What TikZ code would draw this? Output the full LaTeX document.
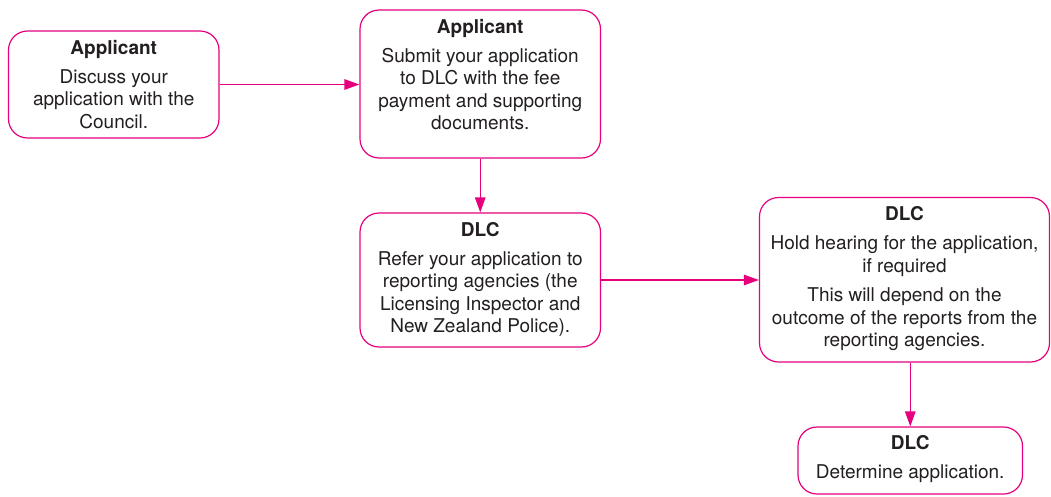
\documentclass[tikz,border=0pt]{standalone}
\usepackage{fontspec}
\setmainfont{TeX Gyre Heros}
\usetikzlibrary{arrows.meta}
\definecolor{mag}{HTML}{E6007E}
\definecolor{ink}{HTML}{231F20}
\tikzset{
  box/.style={draw=mag, line width=1.2pt, rounded corners=19pt, inner sep=0pt, fill=white},
  txt/.style={anchor=north, inner sep=0pt, align=center, text=ink,
    font=\fontsize{19}{22.5}\selectfont},
  conn/.style={draw=mag, line width=1.3pt, -{Triangle[length=15pt,width=10.5pt]}}
}
\begin{document}
\begin{tikzpicture}[x=1pt,y=1pt]
\useasboundingbox (0,0) rectangle (1051,-496);
\node[box, minimum width=210.5pt, minimum height=107pt] (b1) at (113.75,-84.5) {};
\node[box, minimum width=240.5pt, minimum height=148pt] (b2) at (480.25,-84) {};
\node[box, minimum width=240.5pt, minimum height=134pt] (b3) at (480.25,-280) {};
\node[box, minimum width=290pt, minimum height=164.5pt] (b4) at (904.5,-279.75) {};
\node[box, minimum width=224.5pt, minimum height=67pt] (b5) at (910.25,-460.5) {};

\node[txt] (t1) at ([yshift=-9.5pt]b1.north) {\textbf{Applicant}\\[6.5pt]Discuss your\\application with the\\Council.};
\node[txt] (t2) at ([yshift=-9.5pt]b2.north) {\textbf{Applicant}\\[6.5pt]Submit your application\\to DLC with the fee\\payment and supporting\\documents.};
\node[txt] (t3) at ([yshift=-9.5pt]b3.north) {\textbf{DLC}\\[6.5pt]Refer your application to\\reporting agencies (the\\Licensing Inspector and\\New Zealand Police).};
\node[txt] (t4) at ([yshift=-9.5pt]b4.north) {\textbf{DLC}\\[6.5pt]Hold hearing for the application,\\if required\\[7pt]This will depend on the\\outcome of the reports from the\\reporting agencies.};
\node[txt] (t5) at ([yshift=-8.5pt]b5.north) {\textbf{DLC}\\[6.5pt]Determine application.};

\draw[conn] (b1.east) -- (b1.east -| b2.west);
\draw[conn] (b2.south) -- (b3.north);
\draw[conn] (b3.east) -- (b3.east -| b4.west);
\draw[conn] (b5.north |- b4.south) -- (b5.north);
\end{tikzpicture}
\end{document}
